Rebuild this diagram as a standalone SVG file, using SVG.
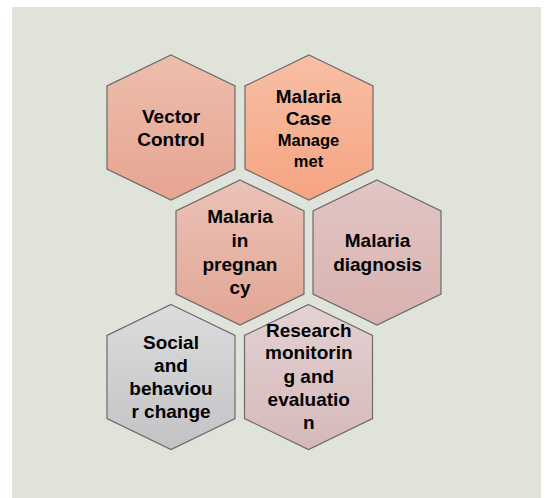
<svg xmlns="http://www.w3.org/2000/svg" xmlns:xlink="http://www.w3.org/1999/xlink" width="546" height="498" viewBox="0 0 546 498">
  <style>
    .hex { stroke: #6b6b6b; stroke-width: 1.2; }
    .lbl { font-family: "Liberation Sans", Arial, sans-serif; font-weight: bold; font-size: 19px; fill: #000; text-anchor: middle; }
    .sm { font-size: 16.5px; }
  </style>
  <defs>
    <polygon id="hex" points="0,-72.5 64,-41.5 64,41.5 0,72.5 -64,41.5 -64,-41.5"/>
    <linearGradient id="gVC" x1="0" y1="0" x2="0" y2="1"><stop offset="0" stop-color="#EDBEAD"/><stop offset="1" stop-color="#E7A491"/></linearGradient>
    <linearGradient id="gCM" x1="0" y1="0" x2="0" y2="1"><stop offset="0" stop-color="#F8BFA5"/><stop offset="1" stop-color="#F5A482"/></linearGradient>
    <linearGradient id="gMP" x1="0" y1="0" x2="0" y2="1"><stop offset="0" stop-color="#EBC2B8"/><stop offset="1" stop-color="#E2A695"/></linearGradient>
    <linearGradient id="gMD" x1="0" y1="0" x2="0" y2="1"><stop offset="0" stop-color="#E1C6C4"/><stop offset="1" stop-color="#D9B2AF"/></linearGradient>
    <linearGradient id="gSB" x1="0" y1="0" x2="0" y2="1"><stop offset="0" stop-color="#DCDCDE"/><stop offset="1" stop-color="#C3C3C6"/></linearGradient>
    <linearGradient id="gRM" x1="0" y1="0" x2="0" y2="1"><stop offset="0" stop-color="#E4D1D2"/><stop offset="1" stop-color="#D5B9BA"/></linearGradient>
  </defs>
  <rect x="0" y="0" width="546" height="498" fill="#ffffff"/>
  <rect x="12" y="7" width="529" height="491" fill="#E0E3DA"/>

  <g id="vector-control">
    <use xlink:href="#hex" href="#hex" class="hex" fill="url(#gVC)" transform="translate(171,127.5)"/>
    <text class="lbl" x="171" y="122.7">Vector</text>
    <text class="lbl" x="171" y="146">Control</text>
  </g>

  <g id="case-management">
    <use xlink:href="#hex" href="#hex" class="hex" fill="url(#gCM)" transform="translate(309,127.5)"/>
    <text class="lbl" x="308.5" y="102.7">Malaria</text>
    <text class="lbl" x="308.5" y="125">Case</text>
    <text class="lbl sm" x="308.5" y="146">Manage</text>
    <text class="lbl sm" x="308.5" y="166.7">met</text>
  </g>

  <g id="malaria-pregnancy">
    <use xlink:href="#hex" href="#hex" class="hex" fill="url(#gMP)" transform="translate(240,252.5)"/>
    <text class="lbl" x="240" y="223.3">Malaria</text>
    <text class="lbl" x="240" y="247.3">in</text>
    <text class="lbl" x="240" y="270.5">pregnan</text>
    <text class="lbl" x="240" y="294">cy</text>
  </g>

  <g id="malaria-diagnosis">
    <use xlink:href="#hex" href="#hex" class="hex" fill="url(#gMD)" transform="translate(377,252.5)"/>
    <text class="lbl" x="377.5" y="247.3">Malaria</text>
    <text class="lbl" x="377.5" y="270.5">diagnosis</text>
  </g>

  <g id="social-behaviour">
    <use xlink:href="#hex" href="#hex" class="hex" fill="url(#gSB)" transform="translate(171,377)"/>
    <text class="lbl" x="171" y="349">Social</text>
    <text class="lbl" x="171" y="371.7">and</text>
    <text class="lbl" x="171" y="395">behaviou</text>
    <text class="lbl" x="171" y="418.3">r change</text>
  </g>

  <g id="research-monitoring">
    <use xlink:href="#hex" href="#hex" class="hex" fill="url(#gRM)" transform="translate(308.5,377)"/>
    <text class="lbl" x="308.8" y="336.7">Research</text>
    <text class="lbl" x="308.8" y="359.3">monitorin</text>
    <text class="lbl" x="308.8" y="382.7">g and</text>
    <text class="lbl" x="308.8" y="406">evaluatio</text>
    <text class="lbl" x="308.8" y="429.3">n</text>
  </g>

  <g id="connectors"></g>
</svg>
